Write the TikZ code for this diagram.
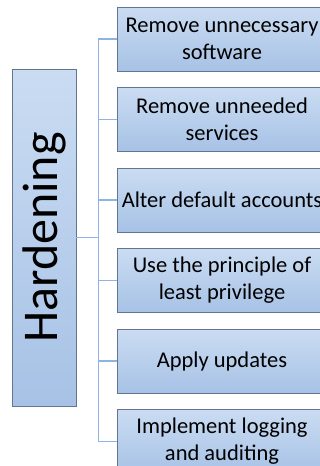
\documentclass[tikz,border=0pt]{standalone}
\usepackage{fontspec}
\setmainfont{Carlito}
\usetikzlibrary{positioning}
\definecolor{boxtop}{HTML}{CADCF2}
\definecolor{boxbot}{HTML}{A7C2E6}
\definecolor{boxline}{HTML}{64758F}
\definecolor{linkblue}{HTML}{8EB4E3}

\begin{document}
\begin{tikzpicture}[x=1pt,y=1pt,
		item/.style={draw=boxline,line width=0.9pt,top color=boxtop,bottom color=boxbot,
			minimum width=210pt,minimum height=64pt,inner sep=0pt,align=center,
			font=\fontsize{22.5}{27}\selectfont},
		root/.style={item,rotate=90,minimum width=337pt,minimum height=64pt,
			font=\fontsize{50}{60}\selectfont},
		link/.style={draw=linkblue,line width=1.5pt}]
	\useasboundingbox (0,0) rectangle (320,-466);
	% root box on the left
	\node[root] (hard) at (44,-237.5) {Hardening};
	% the six measures
	\node[item] (soft) at (222,-39) {Remove unnecessary\\software};
	\node[item,below=15.6pt of soft] (serv) {Remove unneeded\\services};
	\node[item,below=15.6pt of serv] (acct) {Alter default accounts};
	\node[item,below=15.6pt of acct] (priv) {Use the principle of\\least privilege};
	\node[item,below=15.6pt of priv] (upd) {Apply updates};
	\node[item,below=15.6pt of upd] (logs) {Implement logging\\and auditing};
	% tree lines
	\coordinate[right=22pt of hard.south] (fork);
	\draw[link] (hard.south) -- (fork);
	\draw[link] (fork|-soft.west) -- (fork|-logs.west);
	\foreach \n in {soft,serv,acct,priv,upd,logs}
		\draw[link] (fork|-\n.west) -- (\n.west);
\end{tikzpicture}
\end{document}
